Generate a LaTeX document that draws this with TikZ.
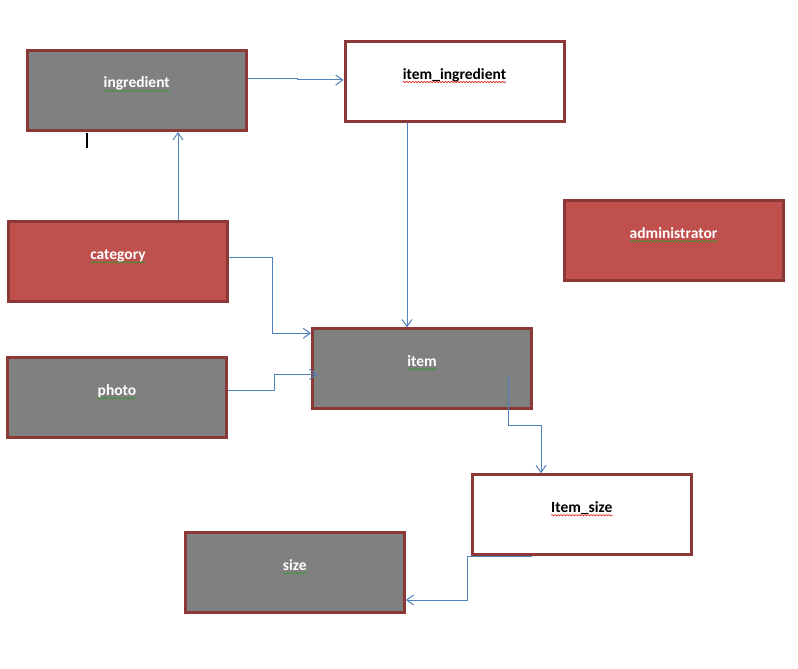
\documentclass[tikz,border=0pt]{standalone}
\usepackage{fontspec}
\setmainfont{Carlito}
\usetikzlibrary{arrows.meta,calc,decorations.pathmorphing}

\definecolor{entgray}{HTML}{808080}
\definecolor{entred}{HTML}{C0504D}
\definecolor{entborder}{HTML}{8C3836}
\definecolor{linkblue}{HTML}{4F81BD}
\definecolor{wavegreen}{HTML}{2E9A2E}
\definecolor{wavered}{HTML}{E02020}

\tikzset{
  entity/.style={rectangle, draw=entborder, line width=3pt, inner sep=0pt,
    minimum width=219pt, minimum height=80pt},
  grayent/.style={entity, fill=entgray},
  redent/.style={entity, fill=entred},
  whiteent/.style={entity, fill=white},
  lbl/.style={anchor=base, inner sep=0pt, font=\fontsize{15.5}{18}\selectfont\bfseries},
  conn/.style={draw=linkblue, line width=1pt, -{Straight Barb[length=7pt,width=10pt,line width=1pt]}},
  squig/.style={line width=0.6pt, decorate,
    decoration={snake, segment length=3pt, amplitude=0.7pt}},
}

\begin{document}
\begin{tikzpicture}[x=1pt, y=-1pt]
  \useasboundingbox[fill=white] (0,0) rectangle (798,669);

  % entities
  \node[grayent]  (ingredient)      at (136.75, 90.5) {};
  \node[whiteent] (item_ingredient) at (454.5, 81.5)  {};
  \node[redent]   (administrator)   at (673.5, 240.7) {};
  \node[redent]   (category)        at (118, 261.8)   {};
  \node[grayent]  (photo)           at (117, 397.8)   {};
  \node[grayent]  (item)            at (422, 368.8)   {};
  \node[whiteent] (Item_size)       at (581.8, 514.7) {};
  \node[grayent]  (size)            at (294.8, 572.7) {};

  % entity names, set a little above the box centres
  \node[lbl, text=white] (t-ingredient)    at ($(ingredient.center)+(0,-2.5)$)      {ingredient};
  \node[lbl, text=black] (t-itemingr)      at ($(item_ingredient.center)+(0,-2.5)$) {item\_ingredient};
  \node[lbl, text=white] (t-administrator) at ($(administrator.center)+(0,-2.5)$)   {administrator};
  \node[lbl, text=white] (t-category)      at ($(category.center)+(0,-2.5)$)        {category};
  \node[lbl, text=white] (t-photo)         at ($(photo.center)+(0,-2.5)$)           {photo};
  \node[lbl, text=white] (t-item)          at ($(item.center)+(0,-2.5)$)            {item};
  \node[lbl, text=black] (t-itemsize)      at ($(Item_size.center)+(0,-2.5)$)       {Item\_size};
  \node[lbl, text=white] (t-size)          at ($(size.center)+(0,-2.5)$)            {size};

  % proofing underlines
  \foreach \t in {t-ingredient, t-administrator, t-category, t-photo, t-item, t-size}
    \draw[squig, draw=wavegreen] ($(\t.base west)+(0,3)$) -- ($(\t.base east)+(0,3)$);
  \foreach \t in {t-itemingr, t-itemsize}
    \draw[squig, draw=wavered] ($(\t.base west)+(0,3)$) -- ($(\t.base east)+(0,3)$);

  % stray tick below ingredient
  \draw[black, line width=1.6pt] (87,133) -- (87,148);

  % connectors
  \draw[conn] ($(ingredient.east)+(0,-12.2)$) -- ++(50,0) |- ($(item_ingredient.west)+(0,-1.5)$);
  \draw[conn] ($(category.north)+(60,0)$) coordinate (c1) -- (c1 |- ingredient.south);
  \draw[conn] ($(item_ingredient.south)+(-47.5,0)$) coordinate (c2) -- (c2 |- item.north);
  \draw[conn] ($(category.east)+(0,-4.5)$) -- ++(43,0) |- ($(item.west)+(0,-35.5)$);
  \draw[conn] ($(photo.east)+(0,-7.5)$) -- ++(46.5,0) |- ($(item.west)+(6.3,5.5)$);
  \draw[conn] ($(item.center)+(86.3,7.2)$) -- ++(0,49.7) -| ($(Item_size.north)+(-40.8,0)$);
  \draw[conn] ($(Item_size.south)+(-50,0.6)$) -- ++(-64,0) |- ($(size.east)+(0,27.3)$);
\end{tikzpicture}
\end{document}
